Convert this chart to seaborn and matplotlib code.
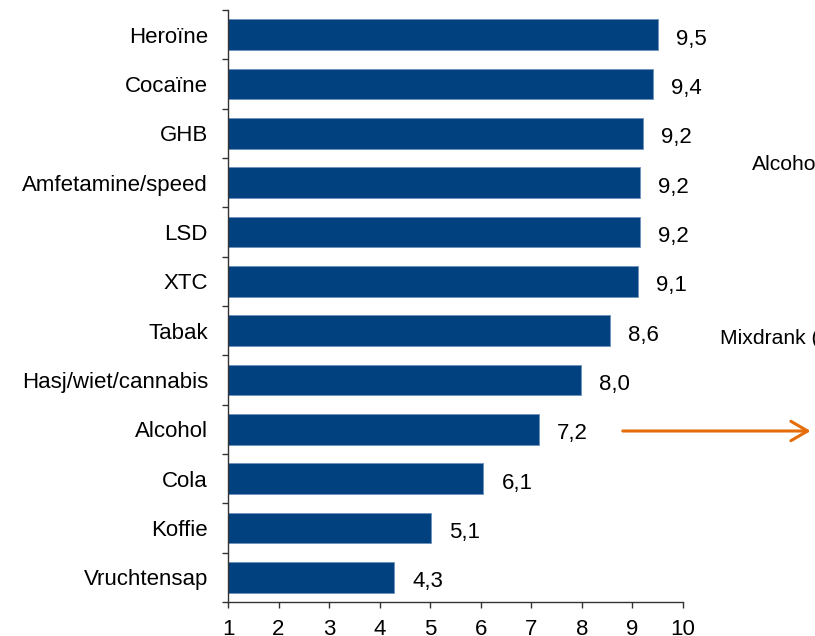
import matplotlib
matplotlib.use("Agg")
import matplotlib.pyplot as plt
import seaborn as sns
import numpy as np
import pandas as pd

categories = ["Heroïne", "Cocaïne", "GHB", "Amfetamine/speed", "LSD", "XTC",
              "Tabak", "Hasj/wiet/cannabis", "Alcohol", "Cola", "Koffie", "Vruchtensap"]
values = [9.5, 9.4, 9.2, 9.15, 9.15, 9.1, 8.55, 7.98, 7.15, 6.05, 5.02, 4.28]
value_labels = ["9,5", "9,4", "9,2", "9,2", "9,2", "9,1", "8,6", "8,0", "7,2", "6,1", "5,1", "4,3"]
x_ticks = [1, 2, 3, 4, 5, 6, 7, 8, 9, 10]
side_texts = ["Alcohol", "Mixdrank ("]

sns.set_theme(style="white")
plt.rcParams['font.family'] = ['Liberation Sans', 'DejaVu Sans']
plt.rcParams['text.color'] = 'black'

df = pd.DataFrame({"cat": categories, "val": values})

fig = plt.figure(figsize=(8.15, 6.36), dpi=100)
ax = fig.add_axes([228/815, 1-602/636, (683-228)/815, (602-10)/636])

sns.barplot(data=df, x="val", y="cat", orient="h", color="#02417F",
            saturation=1, width=0.62, ax=ax, edgecolor="#6F93BF", linewidth=0.6)

ax.set_xlim(1, 10)
ax.set_ylim(len(categories) - 0.5, -0.5)
ax.set_xlabel("")
ax.set_ylabel("")
ax.set_xticks(x_ticks)
ax.set_xticklabels([str(t) for t in x_ticks], fontsize=16)
ax.tick_params(axis="x", direction="out", length=4.5, width=1, color="#333333",
               pad=7.5, labelcolor="black", bottom=True)
ax.tick_params(axis="y", which="major", length=0, pad=14.4, labelsize=16, labelcolor="black")
ax.set_yticks(np.arange(-0.5, len(categories)), minor=True)
ax.tick_params(axis="y", which="minor", direction="out", length=4.5, width=1,
               color="#333333", left=True)

for s in ["top", "right"]:
    ax.spines[s].set_visible(False)
for s in ["left", "bottom"]:
    ax.spines[s].set_color("#333333")
    ax.spines[s].set_linewidth(1)

for i, (v, lab) in enumerate(zip(values, value_labels)):
    ax.text(v + 0.36, i + 0.09, lab, va="center", ha="left", fontsize=16, color="black")

fig.text(752/815, 1-165/636, side_texts[0], fontsize=15.2, va="center", ha="left", color="black")
fig.text(720/815, 1-338/636, side_texts[1], fontsize=15.2, va="center", ha="left", color="black")

fig.patches.append(matplotlib.patches.FancyArrowPatch(
    (620/815, 1-431/636), (815/815 - 0.002, 1-431/636), transform=fig.transFigure,
    arrowstyle="->,head_length=12,head_width=7", color="#E46C0A", linewidth=2.2,
    mutation_scale=1))

fig.savefig("out.png", dpi=100)
